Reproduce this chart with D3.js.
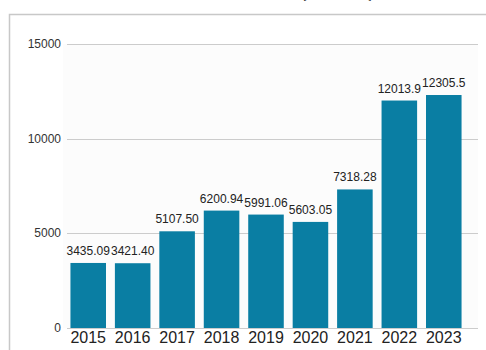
<!DOCTYPE html>
<html>
<head>
<meta charset="utf-8">
<script src="https://cdn.jsdelivr.net/npm/d3@7/dist/d3.min.js"></script>
<style>
    html, body { margin: 0; padding: 0; background: #fff; }
    svg { display: block; font-family: Arial, "Liberation Sans", sans-serif; }
</style>
</head>
<body>
<div class="chart"></div>
<script>
// data
const years = ['2015', '2016', '2017', '2018', '2019', '2020', '2021', '2022', '2023']
const values = [3435.09, 3421.40, 5107.50, 6200.94, 5991.06, 5603.05, 7318.28, 12013.9, 12305.5]
const yTicks = [0, 5000, 10000, 15000]
const title = '营业收入(百万元)'

// sizes
const width = 486
const height = 350

const svg = d3.select('.chart')
    .append('svg')
    .attr('width', width)
    .attr('height', height)

// scales
const x = d3
    .scaleBand()
    .domain(years)
    .range([66, 466])
    .paddingInner(0.2)
    .paddingOuter(0.1)
const y = d3
    .scaleLinear()
    .domain([0, 15000])
    .range([328, 44])

// title, cut off by the top edge like in the source
svg.append('text')
    .attr('x', 375)
    .attr('y', -3)
    .attr('text-anchor', 'end')
    .style('font-family', '"Noto Sans CJK SC", sans-serif')
    .style('font-weight', 'bold')
    .style('font-size', '20px')
    .style('fill', '#222')
    .text(title)

// frame
svg.append('path')
    .attr('d', 'M9.5,350 V14.5 H486')
    .style('fill', 'none')
    .style('stroke', '#c8c8c8')
    .style('stroke-width', 1.5)

// plot background
svg.append('rect')
    .attr('x', 63)
    .attr('y', 44)
    .attr('width', 415)
    .attr('height', 284)
    .style('fill', '#fcfcfc')

// grid + y labels
const grid = svg.append('g')
    .selectAll('g')
    .data(yTicks)
    .enter()
    .append('g')
    .attr('transform', d => `translate(0, ${Math.round(y(d)) + 0.5})`)

grid.append('line')
    .attr('x1', 67)
    .attr('x2', 478)
    .style('stroke', '#cccccc')
    .style('stroke-width', 1)

grid.append('text')
    .attr('x', 61)
    .attr('dy', '0.32em')
    .attr('text-anchor', 'end')
    .style('font-size', '12px')
    .style('fill', '#333')
    .text(d => d)

// bars
svg.append('g')
    .selectAll('rect')
    .data(values)
    .enter()
    .append('rect')
    .attr('x', (d, i) => x(years[i]))
    .attr('y', d => y(d))
    .attr('width', x.bandwidth())
    .attr('height', d => y(0) - y(d))
    .style('fill', '#0a7ea3')

// value labels
svg.append('g')
    .selectAll('text')
    .data(values)
    .enter()
    .append('text')
    .attr('x', (d, i) => x(years[i]) + x.bandwidth() / 2)
    .attr('y', d => y(d) - 8)
    .attr('text-anchor', 'middle')
    .style('font-size', '12px')
    .style('fill', '#222')
    .text(d => d3.format('.6r')(d))

// x labels
svg.append('g')
    .selectAll('text')
    .data(years)
    .enter()
    .append('text')
    .attr('x', d => x(d) + x.bandwidth() / 2)
    .attr('y', 342.5)
    .attr('text-anchor', 'middle')
    .style('font-size', '16px')
    .style('fill', '#222')
    .text(d => d)
</script>
</body>
</html>
